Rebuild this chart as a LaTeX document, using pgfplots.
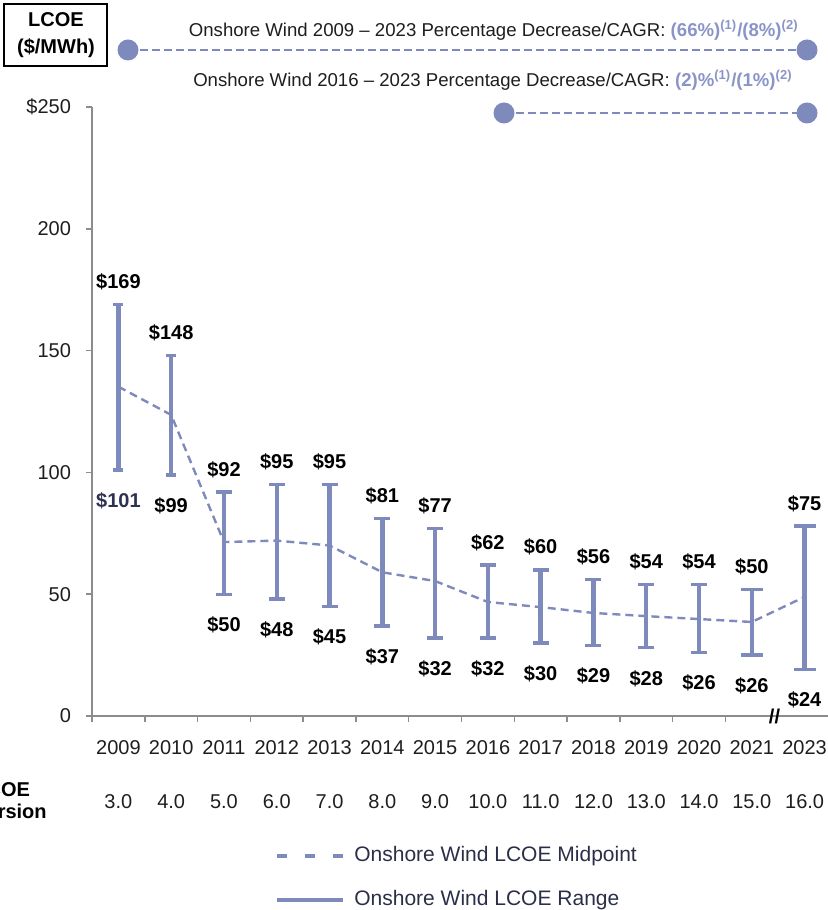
\documentclass[border=0pt]{standalone}
\usepackage{pgfplots}
\pgfplotsset{compat=1.18}
\usepackage{pgfplotstable}
\usepackage{fontspec}
\setmainfont{Liberation Sans}
\definecolor{barc}{RGB}{127,138,188}
\definecolor{hdrc}{RGB}{138,148,200}
\definecolor{axc}{RGB}{140,140,140}
\definecolor{legc}{RGB}{43,46,72}
\definecolor{navy}{RGB}{46,50,82}
\definecolor{txt}{RGB}{30,30,30}

\pgfplotstableread{
x mid high low hl ll
0 135.2 169 101 169 101
1 123.6 148 99 148 99
2 71.4 92 50 92 50
3 72 95 48 95 48
4 70 95 45 95 45
5 59 81 37 81 37
6 55.4 77 32 77 32
7 46.8 62 32 62 32
8 44.7 60 30 60 30
9 42.3 56 29 56 29
10 41 54 28 54 28
11 39.8 54 26 54 26
12 38.6 52 25 50 26
13 48.9 78 19 75 24
}\lcoe

\begin{document}
\begin{tikzpicture}[font=\fontsize{10}{12}\selectfont]
\begin{axis}[
  at={(0,0)}, anchor=south west,
  width=369.5pt, height=304.5pt, scale only axis,
  xmin=-0.5, xmax=13.5, ymin=0, ymax=250,
  axis x line=bottom, axis y line=left,
  axis line style={axc, line width=0.75pt, -},
  clip=false,
  xtick={0,...,13},
  xticklabels={{2009\\[15pt]3.0},{2010\\[15pt]4.0},{2011\\[15pt]5.0},{2012\\[15pt]6.0},{2013\\[15pt]7.0},{2014\\[15pt]8.0},{2015\\[15pt]9.0},{2016\\[15pt]10.0},{2017\\[15pt]11.0},{2018\\[15pt]12.0},{2019\\[15pt]13.0},{2020\\[15pt]14.0},{2021\\[15pt]15.0},{2023\\[15pt]16.0}},
  xticklabel style={align=center, anchor=north, inner sep=0pt, yshift=-9pt, text=txt},
  every major x tick/.append style={draw=none},
  minor xtick={-0.5,0.5,1.5,2.5,3.5,4.5,5.5,6.5,7.5,8.5,9.5,10.5,11.5},
  minor tick length=3pt,
  every minor tick/.append style={axc, line width=0.75pt},
  ytick={0,50,100,150,200,250},
  yticklabels={0,50,100,150,200,\$250},
  yticklabel style={text=txt, xshift=-4pt},
  tick align=outside,
  major tick length=3pt,
  tick style={axc, line width=0.75pt},
  legend image code/.code={\draw[#1] (0pt,0pt) -- (33pt,0pt);},
  legend style={at={(0.2476,-0.207)}, anchor=north west, draw=none, fill=none,
    font=\fontsize{10.5}{12.6}\selectfont, text=legc, row sep=9pt, inner sep=0pt,
    /tikz/every odd column/.append style={column sep=2.5pt}},
  legend cell align=left,
]
\addlegendimage{barc, line width=2pt, dash pattern=on 5pt off 9pt}
\addlegendentry{Onshore Wind LCOE Midpoint}
\addlegendimage{barc, line width=2pt}
\addlegendentry{Onshore Wind LCOE Range}

% range bars (three cap widths)
\addplot[draw=none, mark=none, forget plot, restrict x to domain=0:1,
  error bars/.cd, y dir=both, y explicit,
  error bar style={draw=barc, line width=2.2pt, solid},
  error mark options={rotate=90, draw=barc, line width=1.7pt, mark size=2.5pt, solid}]
  table[x=x, y=mid, y error plus expr=\thisrow{high}-\thisrow{mid}, y error minus expr=\thisrow{mid}-\thisrow{low}] {\lcoe};
\addplot[draw=none, mark=none, forget plot, restrict x to domain=2:11,
  error bars/.cd, y dir=both, y explicit,
  error bar style={draw=barc, line width=2.2pt, solid},
  error mark options={rotate=90, draw=barc, line width=1.7pt, mark size=4pt, solid}]
  table[x=x, y=mid, y error plus expr=\thisrow{high}-\thisrow{mid}, y error minus expr=\thisrow{mid}-\thisrow{low}] {\lcoe};
\addplot[draw=none, mark=none, forget plot, restrict x to domain=12:13,
  error bars/.cd, y dir=both, y explicit,
  error bar style={draw=barc, line width=2.2pt, solid},
  error mark options={rotate=90, draw=barc, line width=1.7pt, mark size=5.5pt, solid}]
  table[x=x, y=mid, y error plus expr=\thisrow{high}-\thisrow{mid}, y error minus expr=\thisrow{mid}-\thisrow{low}] {\lcoe};

% midpoint
\addplot[forget plot, barc, line width=1.2pt, dash pattern=on 4pt off 2.5pt, mark=none]
  table[x=x, y=mid] {\lcoe};

% high labels
\addplot[draw=none, mark=none, forget plot, point meta=explicit symbolic,
  nodes near coords={\$\pgfplotspointmeta},
  every node near coord/.append style={anchor=south, inner sep=0pt, yshift=7pt, font=\bfseries, text=black}]
  table[x=x, y=high, meta=hl] {\lcoe};
% low labels
\addplot[draw=none, mark=none, forget plot, point meta=explicit symbolic, restrict x to domain=1:13,
  nodes near coords={\$\pgfplotspointmeta},
  every node near coord/.append style={anchor=north, inner sep=0pt, yshift=-11pt, font=\bfseries, text=black}]
  table[x=x, y=low, meta=ll] {\lcoe};
\addplot[draw=none, mark=none, forget plot, point meta=explicit symbolic, restrict x to domain=0:0,
  nodes near coords={\$\pgfplotspointmeta},
  every node near coord/.append style={anchor=north, inner sep=0pt, yshift=-11pt, font=\bfseries, text=navy}]
  table[x=x, y=low, meta=ll] {\lcoe};

\node[font=\bfseries, text=black, inner sep=0pt] at (axis cs:12.43,0) {//};
\end{axis}

% header
\node[draw=black, line width=1pt, align=center, font=\bfseries\fontsize{10}{13.5}\selectfont,
  minimum width=51.5pt, minimum height=31pt, inner sep=0pt] at (-18pt,340.5pt) {LCOE\\(\$/MWh)};
\node[anchor=base east, font=\fontsize{9.3}{11}\selectfont, text=txt, inner sep=0pt] at (353.5pt,339.5pt)
  {Onshore Wind 2009 – 2023 Percentage Decrease/CAGR: {\color{hdrc}\bfseries (66\%)\textsuperscript{(1)}/(8\%)\textsuperscript{(2)}}};
\draw[barc, line width=1.3pt, dash pattern=on 4pt off 2pt] (18pt,333pt) -- (357.5pt,333pt);
\fill[barc] (18pt,333pt) circle (5.25pt);
\fill[barc] (357.5pt,333pt) circle (5.25pt);
\node[anchor=base east, font=\fontsize{9.3}{11}\selectfont, text=txt, inner sep=0pt] at (350.5pt,314.5pt)
  {Onshore Wind 2016 – 2023 Percentage Decrease/CAGR: {\color{hdrc}\bfseries (2)\%\textsuperscript{(1)}/(1\%)\textsuperscript{(2)}}};
\draw[barc, line width=1.3pt, dash pattern=on 4pt off 2pt] (206pt,301.5pt) -- (357.5pt,301.5pt);
\fill[barc] (206pt,301.5pt) circle (5.25pt);
\fill[barc] (357.5pt,301.5pt) circle (5.25pt);

% row label
\node[anchor=base west, font=\bfseries, inner sep=0pt] at (-59pt,-40pt) {LCOE};
\node[anchor=base west, font=\bfseries, inner sep=0pt] at (-59pt,-51pt) {Version};

\pgfresetboundingbox
\useasboundingbox (-46pt,-97pt) rectangle (368pt,358pt);
\end{tikzpicture}
\end{document}
